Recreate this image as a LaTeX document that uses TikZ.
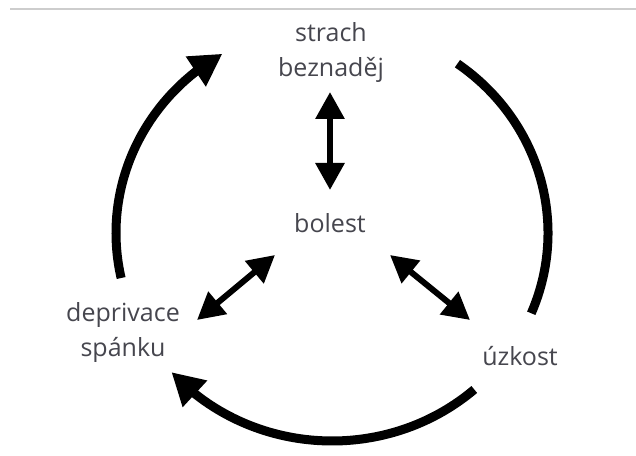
\documentclass[tikz,border=0pt]{standalone}
\usepackage{fontspec}
\setmainfont{Open Sans}
\usetikzlibrary{arrows.meta,bending,calc}
\definecolor{termgray}{RGB}{70,70,78}
\definecolor{rulegray}{RGB}{205,205,205}
\begin{document}
\begin{tikzpicture}[x=1pt,y=1pt,
  term/.style={font=\fontsize{25}{35}\selectfont, text=termgray, inner sep=0pt, align=center},
  twoway/.style={line width=6pt,
    {Triangle[width=28pt,length=27pt]}-{Triangle[width=28pt,length=27pt]}},
  cyclearc/.style={line width=9pt, -{Triangle[width=34pt,length=32pt]}},
  plainarc/.style={line width=9pt}
]
% page and the thin rule along the top
\fill[white] (0,0) rectangle (636,455);
\useasboundingbox (0,0) rectangle (636,455);
\draw[rulegray, line width=2pt] (10,446) -- (636,446);

% the four states
\node[term] (fear)  at (331,402.5) {strach\\beznaděj};
\node[term] (pain)  at (330,232)   {bolest};
\node[term] (sleep) at (123,122.5) {deprivace\\spánku};
\node[term] (anx)   at (520,99)    {úzkost};

% pain is linked both ways with each of the others
\draw[twoway] ($(fear)+(-1,-39.5)$) -- ($(pain)+(0,33)$);
\draw[twoway] ($(sleep)+(74,12.5)$) -- ($(pain)+(-55,-32)$);
\draw[twoway] ($(pain)+(60,-32)$) -- ($(anx)+(-50,36)$);

% the outer vicious circle
\coordinate (ring) at (332,222);
\draw[cyclearc] ([shift={(192.5:216pt and 208pt)}]ring)
  arc[start angle=192.5, end angle=120.5, x radius=216pt, y radius=208pt];
\draw[plainarc] ([shift={(54.5:216pt and 208pt)}]ring)
  arc[start angle=54.5, end angle=-22.7, x radius=216pt, y radius=208pt];
\draw[cyclearc] ([shift={(-48.8:216pt and 208pt)}]ring)
  arc[start angle=-48.8, end angle=-138, x radius=216pt, y radius=208pt];
\end{tikzpicture}
\end{document}
